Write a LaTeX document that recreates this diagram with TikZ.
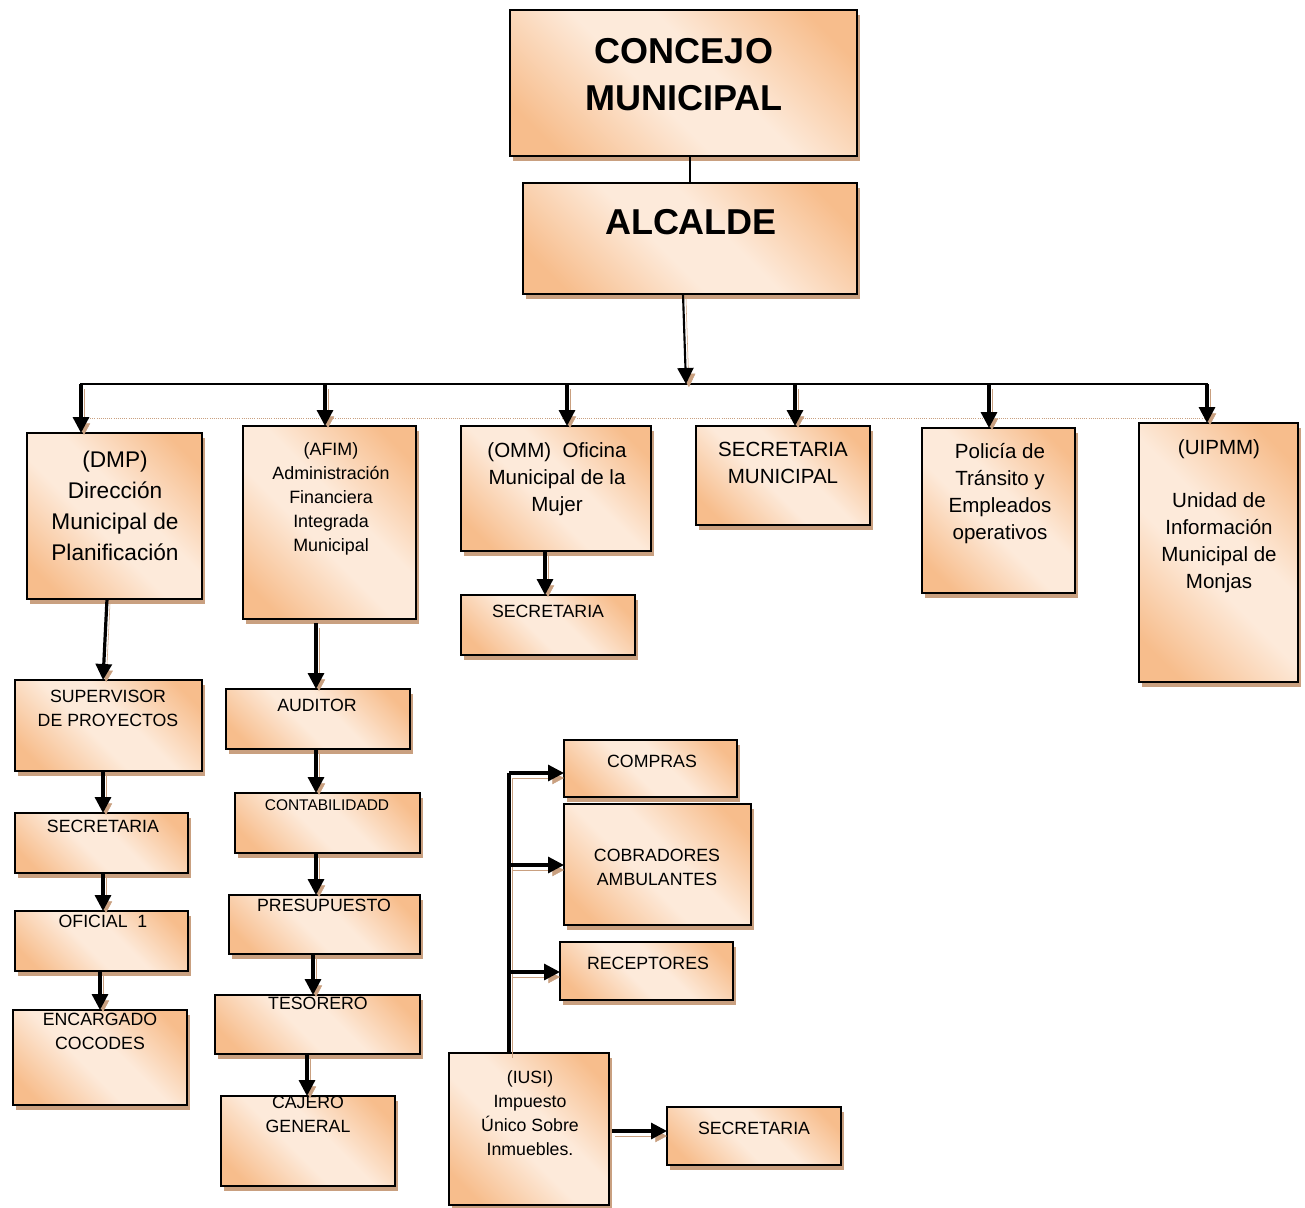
\documentclass[tikz,border=0pt]{standalone}
\usepackage{fontspec}
\setmainfont{Liberation Sans}
\usetikzlibrary{arrows.meta,calc}
\definecolor{pdark}{RGB}{247,189,140}
\definecolor{plight}{RGB}{253,234,218}
\definecolor{shadowc}{RGB}{201,160,128}
\pgfdeclarehorizontalshading{peach}{100bp}{color(0bp)=(pdark); color(22bp)=(pdark); color(44bp)=(plight); color(56bp)=(plight); color(78bp)=(pdark); color(100bp)=(pdark)}
\tikzset{
  box/.style={draw=black, line width=2.2pt, shade, shading=peach, shading angle=45,
    preaction={fill=shadowc, transform canvas={shift={(2.25pt,-3.75pt)}}},
    inner sep=0pt, outer sep=0pt},
  txt/.style={align=center, inner sep=0pt, anchor=north},
  fbig/.style={font=\fontsize{27}{35}\selectfont\bfseries},
  fdmp/.style={font=\fontsize{17}{23.25}\selectfont},
  fmed/.style={font=\fontsize{15.4}{20.4}\selectfont},
  fafim/.style={font=\fontsize{13.4}{18}\selectfont},
  fsm/.style={font=\fontsize{13.3}{18}\selectfont},
  fcon/.style={font=\fontsize{11.6}{14}\selectfont},
  conn/.style={line width=2.4pt, -{Triangle[width=12pt,length=12pt]},
    preaction={draw=shadowc, transform canvas={shift={(2.25pt,-3.75pt)}}}},
  bus/.style={line width=1.8pt, line cap=rect},
  plain/.style={line width=1.8pt},
  faint/.style={draw=shadowc, line width=0.6pt, densely dotted}
}
\newcommand\obox[8]{%
  \node[box, anchor=north west, minimum width={(#4-#2)*0.75pt}, minimum height={(#5-#3)*0.75pt}] (#1) at (#2,#3) {};
  \node[txt, #6] (#1t) at (#7) {#8};}
\begin{document}
\begin{tikzpicture}[x=0.75pt,y=-0.75pt]
\useasboundingbox (0,0) rectangle (1305,1207);
\obox{concejo}{510}{10}{857}{156}{fbig}{684,38}{CONCEJO\\MUNICIPAL}
\obox{alcalde}{523}{183}{857}{294}{fbig}{691,209}{ALCALDE}
\obox{dmp}{27}{433}{202}{599}{fdmp}{115,451}{(DMP)\\Dirección\\Municipal de\\Planificación}
\obox{afim}{243}{426}{416}{619}{fafim}{331,442}{(AFIM)\\Administración\\Financiera\\Integrada\\Municipal}
\obox{omm}{461}{426}{651}{551}{fmed}{557,442}{(OMM)\ \ Oficina\\Municipal de la\\Mujer}
\obox{secmun}{696}{426}{870}{525}{fmed}{783,442}{SECRETARIA\\MUNICIPAL}
\obox{pol}{922}{428}{1075}{593}{fmed}{1000,443}{Policía de\\Tránsito y\\Empleados\\operativos}
\obox{uip}{1139}{423}{1298}{682}{fmed}{1219,439}{(UIPMM)\\[19.5pt]Unidad de\\Información\\Municipal de\\Monjas}
\obox{sup}{15}{680}{202}{771}{fsm}{108,690}{SUPERVISOR\\DE PROYECTOS}
\obox{sec1}{15}{813}{188}{873}{fsm}{103,820}{SECRETARIA}
\obox{ofi}{15}{911}{188}{971}{fsm}{103,915}{OFICIAL\ \ 1}
\obox{enc}{13}{1010}{187}{1105}{fsm}{100,1013}{ENCARGADO\\COCODES}
\obox{aud}{226}{689}{410}{749}{fsm}{317,699}{AUDITOR}
\obox{con}{235}{793}{420}{853}{fcon}{327,799}{CONTABILIDADD}
\obox{pre}{229}{895}{420}{954}{fsm}{324,899}{PRESUPUESTO}
\obox{tes}{215}{995}{420}{1054}{fsm}{318,997}{TESORERO}
\obox{caj}{221}{1096}{395}{1186}{fsm}{308,1096}{CAJERO\\GENERAL}
\obox{osec}{461}{595}{635}{655}{fsm}{548,605}{SECRETARIA}
\obox{com}{564}{740}{737}{797}{fsm}{652,755}{COMPRAS}
\obox{cob}{564}{804}{751}{925}{fsm}{657,849}{COBRADORES\\AMBULANTES}
\obox{rec}{560}{942}{733}{1000}{fsm}{648,957}{RECEPTORES}
\obox{iusi}{449}{1053}{609}{1205}{fsm}{530,1070}{(IUSI)\\Impuesto\\Único Sobre\\Inmuebles.}
\obox{isec}{667}{1107}{841}{1165}{fsm}{754,1122}{SECRETARIA}
% top connectors
\draw[plain] (alcalde.north) -- (alcalde.north |- concejo.south);
\coordinate (b1) at (81,384);
\coordinate (b2) at (325,384);
\coordinate (b3) at (567,384);
\coordinate (b4) at (795,384);
\coordinate (b5) at (989,384);
\coordinate (b6) at (1207,384);
\coordinate (bt) at (686,384);
\draw[faint] ($(b1)+(7,34)$) -- ($(b6)+(0,34)$);
\draw[bus] (b1) -- (b6);
\draw[conn, line width=1.6pt] ($(alcalde.south)+(-7,0)$) -- (bt);
\foreach \b/\n in {b1/dmp,b2/afim,b3/omm,b4/secmun,b5/pol,b6/uip}
  \draw[conn] (\b) -- (\b |- \n.north);
% DMP column
\draw[conn] ($(dmp.south)+(-7.5,0)$) -- ($(sup.north)+(-5.5,0)$);
\draw[conn] ($(sup.south)+(-5.5,0)$) -- ($(sec1.north)+(1.5,0)$);
\draw[conn] ($(sec1.south)+(1.5,0)$) -- ($(ofi.north)+(1.5,0)$);
\draw[conn] ($(ofi.south)+(-1.5,0)$) -- (enc.north);
% AFIM column
\draw[conn] ($(afim.south)+(-13.5,4)$) -- ($(aud.north)+(-2,0)$);
\draw[conn] ($(aud.south)+(-2,0)$) -- ($(con.north)+(-11.5,0)$);
\draw[conn] ($(con.south)+(-11.5,0)$) -- ($(pre.north)+(-8.5,0)$);
\draw[conn] ($(pre.south)+(-11.5,0)$) -- ($(tes.north)+(-4.5,0)$);
\draw[conn] ($(tes.south)+(-10.5,0)$) -- ($(caj.north)+(-1,0)$);
% OMM
\draw[conn] ($(omm.south)+(-11,0)$) -- ($(osec.north)+(-3,0)$);
% IUSI
\coordinate (j1) at (509,773);
\coordinate (j2) at (509,865);
\coordinate (j3) at (509,972);
\draw[plain, line width=2.4pt, preaction={draw=shadowc, transform canvas={shift={(2.25pt,-3.75pt)}}}] ($(iusi.north)+(-20,0)$) -- (j1);
\draw[conn] (j1) -- (j1 -| com.west);
\draw[conn] (j2) -- (j2 -| cob.west);
\draw[conn] (j3) -- (j3 -| rec.west);
\draw[conn] ($(iusi.east)+(3,2)$) -- ($(isec.west)+(0,-5)$);
\end{tikzpicture}
\end{document}
